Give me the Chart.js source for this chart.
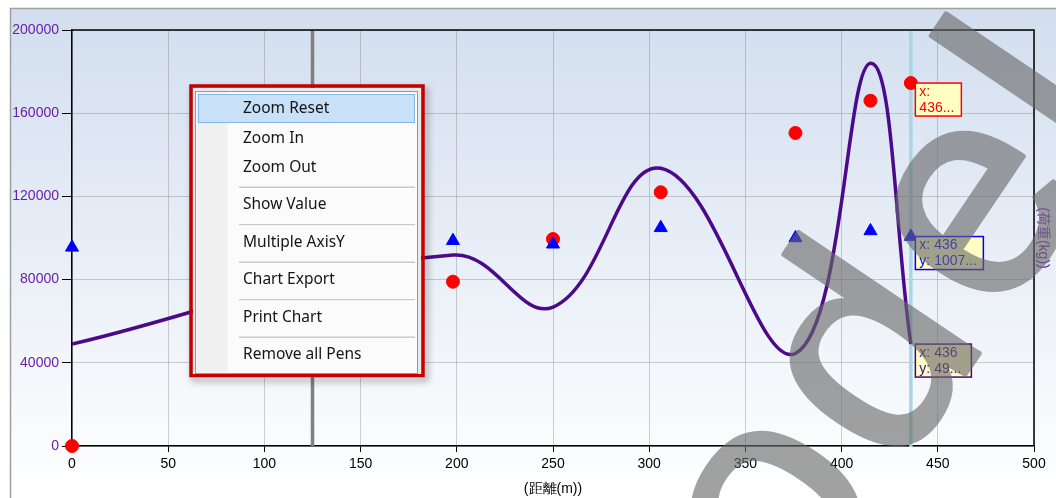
<!DOCTYPE html>
<html>
<head>
<meta charset="utf-8">
<script src="https://cdn.jsdelivr.net/npm/chart.js@4.4.0/dist/chart.umd.min.js"></script>
<style>
html, body { margin: 0; padding: 0; background: #fff; overflow: hidden; }
#wrap { position: relative; width: 1056px; height: 498px; }
</style>
</head>
<body>
<div id="wrap"><canvas id="chart"></canvas></div>
<script>
// distances (m) where samples were taken
var distX = [0, 198, 250, 306, 376, 415, 436];
// red series (circles)
var redVals = [0, 79000, 99500, 122000, 150500, 166000, 174500];
// blue series (triangles)
var blueVals = [95500, 98700, 97000, 104900, 100000, 103400, 100700];
// purple pen (smoothed line)
var lineVals = [49000, 91800, 66800, 133500, 44500, 184000, 49000];

var yTicks = [0, 40000, 80000, 120000, 160000, 200000];
var xTicks = [0, 50, 100, 150, 200, 250, 300, 350, 400, 450, 500];

var markerX = 125;   // grey marker line
var cursorX = 436;   // light blue cursor line
var xTitle = '(距離(m))';
var yTitle = '(荷重(kg))';

var redTip = ['x:', '436...'];
var blueTip = ['x: 436', 'y: 1007...'];
var lineTip = ['x: 436', 'y: 49...'];

var menuItems = ['Zoom Reset', 'Zoom In', 'Zoom Out', 'Show Value', 'Multiple AxisY', 'Chart Export', 'Print Chart', 'Remove all Pens'];
var watermark = 'Model';

function pts(vals) {
    var out = [];
    for (var i = 0; i < distX.length; i++) out.push({x: distX[i], y: vals[i]});
    return out;
}

var purple = '#6a1fa8';
var labelFont = '"Liberation Sans", Arial, sans-serif';

var bgPlugin = {
    id: 'bg',
    beforeDraw: function (chart) {
        var ctx = chart.ctx;
        ctx.save();
        ctx.fillStyle = '#fff';
        ctx.fillRect(0, 0, chart.width, chart.height);
        var g = ctx.createLinearGradient(0, 8, 0, chart.height);
        g.addColorStop(0, '#d2deef');
        g.addColorStop(1, '#ffffff');
        ctx.fillStyle = g;
        ctx.fillRect(10, 8, chart.width - 10, chart.height - 8);
        ctx.strokeStyle = '#a0a0a0';
        ctx.lineWidth = 1.5;
        ctx.beginPath();
        ctx.moveTo(10.5, chart.height);
        ctx.lineTo(10.5, 8.5);
        ctx.lineTo(chart.width, 8.5);
        ctx.stroke();
        ctx.restore();
    },
    beforeDatasetsDraw: function (chart) {
        var ctx = chart.ctx, a = chart.chartArea, xs = chart.scales.x;
        ctx.save();
        ctx.lineWidth = 3.5;
        ctx.strokeStyle = '#808080';
        var mx = xs.getPixelForValue(markerX);
        ctx.beginPath(); ctx.moveTo(mx, a.top); ctx.lineTo(mx, a.bottom); ctx.stroke();
        ctx.strokeStyle = '#a9d6e4';
        var cx = xs.getPixelForValue(cursorX);
        ctx.beginPath(); ctx.moveTo(cx, a.top); ctx.lineTo(cx, a.bottom + 1); ctx.stroke();
        // top and right frame
        ctx.strokeStyle = '#000';
        ctx.lineWidth = 1.5;
        ctx.beginPath();
        ctx.moveTo(a.left, a.top); ctx.lineTo(a.right, a.top); ctx.lineTo(a.right, a.bottom);
        ctx.stroke();
        ctx.restore();
    }
};

function drawTip(ctx, x, y, w, lines, color) {
    ctx.fillStyle = '#ffffc4';
    ctx.fillRect(x, y, w, 33);
    ctx.strokeStyle = color;
    ctx.lineWidth = 1.5;
    ctx.strokeRect(x, y, w, 33);
    ctx.fillStyle = color;
    ctx.font = '14px ' + labelFont;
    ctx.textAlign = 'left';
    ctx.textBaseline = 'middle';
    ctx.fillText(lines[0], x + 4, y + 9);
    ctx.fillText(lines[1], x + 4, y + 25);
}

function drawMenu(ctx) {
    ctx.save();
    // shadow + red frame
    ctx.shadowColor = 'rgba(0,0,0,0.4)';
    ctx.shadowBlur = 7;
    ctx.shadowOffsetX = 3;
    ctx.shadowOffsetY = 4;
    ctx.strokeStyle = '#c40000';
    ctx.lineWidth = 3.5;
    ctx.strokeRect(191, 86, 232, 289.5);
    ctx.restore();

    ctx.save();
    ctx.fillStyle = '#e9e9e9';
    ctx.fillRect(193, 88, 228, 286);
    ctx.fillStyle = '#fbfbfb';
    ctx.fillRect(195.5, 91.5, 222, 282);
    ctx.fillStyle = '#f0f0f0';
    ctx.fillRect(196.5, 92.5, 31, 280);
    ctx.strokeStyle = '#979797';
    ctx.lineWidth = 1;
    ctx.strokeRect(195.5, 91.5, 222, 282);

    ctx.fillStyle = '#c8e0f8';
    ctx.fillRect(198.5, 94.5, 216, 28);
    ctx.strokeStyle = '#86b9ea';
    ctx.strokeRect(198.5, 94.5, 216, 28);

    var seps = [187, 224.5, 262, 299.5, 337];
    for (var i = 0; i < seps.length; i++) {
        ctx.fillStyle = '#c9c9c9';
        ctx.fillRect(239, seps[i] - 0.5, 176, 1.5);
        ctx.fillStyle = '#ffffff';
        ctx.fillRect(239, seps[i] + 1, 176, 1);
    }
    var ys = [109, 138.3, 167.7, 205, 242.3, 280, 317.3, 355];
    ctx.fillStyle = '#141414';
    ctx.font = '15.5px "Noto Sans", "Open Sans", sans-serif';
    ctx.textAlign = 'left';
    ctx.textBaseline = 'middle';
    for (var j = 0; j < menuItems.length; j++) ctx.fillText(menuItems[j], 243, ys[j]);
    ctx.restore();
}

function drawWatermark(ctx, w, h) {
    // draw opaque on a scratch canvas, then lay it over translucently
    var off = document.createElement('canvas');
    off.width = w; off.height = h;
    var o = off.getContext('2d');
    o.translate(647, 846);
    o.rotate(-56 * Math.PI / 180);
    o.font = '300px ' + labelFont;
    try { o.letterSpacing = '15px'; } catch (e) {}
    o.fillStyle = '#696969';
    o.strokeStyle = '#696969';
    o.lineWidth = 5;
    o.lineJoin = 'round';
    o.fillText(watermark, 0, 0);
    o.strokeText(watermark, 0, 0);
    ctx.save();
    ctx.globalAlpha = 0.62;
    ctx.drawImage(off, 0, 0);
    ctx.restore();
}

var overlayPlugin = {
    id: 'overlay',
    afterDraw: function (chart) {
        var ctx = chart.ctx, a = chart.chartArea, xs = chart.scales.x, ys = chart.scales.y;
        ctx.save();
        // axis titles
        ctx.fillStyle = '#000';
        ctx.font = '14px ' + labelFont;
        ctx.textAlign = 'center';
        ctx.textBaseline = 'middle';
        ctx.fillText(xTitle, (a.left + a.right) / 2, 489);
        ctx.save();
        ctx.translate(1043, (a.top + a.bottom) / 2);
        ctx.rotate(Math.PI / 2);
        ctx.fillStyle = purple;
        ctx.fillText(yTitle, 0, 0);
        ctx.restore();

        // value tips at the cursor
        var last = distX.length - 1;
        var tx = xs.getPixelForValue(cursorX) + 4.5;
        drawTip(ctx, tx, ys.getPixelForValue(redVals[last]), 46, redTip, '#ff0000');
        drawTip(ctx, tx, ys.getPixelForValue(blueVals[last]), 68, blueTip, '#0000ff');
        drawTip(ctx, tx, ys.getPixelForValue(lineVals[last]), 56, lineTip, '#4b0082');
        ctx.restore();

        drawMenu(ctx);
        drawWatermark(ctx, chart.width, chart.height);
    }
};

new Chart(document.getElementById('chart'), {
    type: 'scatter',
    data: {
        datasets: [
            {
                label: 'blue',
                data: pts(blueVals),
                backgroundColor: '#0000ff',
                borderColor: '#0000ff',
                pointRadius: 7.5,
                pointStyle: 'triangle',
                clip: false,
                order: 0
            },
            {
                label: 'red',
                data: pts(redVals),
                backgroundColor: '#ff0000',
                borderColor: '#ff0000',
                pointRadius: 6.5,
                pointStyle: 'circle',
                clip: false,
                order: 1
            },
            {
                label: 'pen',
                type: 'line',
                data: pts(lineVals),
                borderColor: '#4b0a8a',
                borderWidth: 3.5,
                pointRadius: 0,
                tension: 0.4,
                fill: false,
                order: 2
            }
        ]
    },
    options: {
        responsive: true,
        maintainAspectRatio: false,
        animation: false,
        devicePixelRatio: 1,
        layout: { padding: { top: 30, right: 22, left: 0, bottom: 0 } },
        plugins: { legend: { display: false }, tooltip: { enabled: false } },
        scales: {
            x: {
                type: 'linear',
                min: 0,
                max: 500,
                afterFit: function (s) { s.height = 52; },
                afterBuildTicks: function (s) { s.ticks = xTicks.map(function (v) { return {value: v}; }); },
                ticks: { color: '#000', font: { size: 14, family: labelFont }, padding: 4, maxRotation: 0 },
                grid: { color: 'rgba(120,120,120,0.35)', tickColor: '#000', tickLength: 6, lineWidth: 1 },
                border: { color: '#000', width: 1.5 }
            },
            y: {
                min: 0,
                max: 200000,
                afterFit: function (s) { s.width = 72; },
                afterBuildTicks: function (s) { s.ticks = yTicks.map(function (v) { return {value: v}; }); },
                ticks: { color: purple, font: { size: 14, family: labelFont }, padding: 3,
                    callback: function (v) { return String(v); } },
                grid: { color: 'rgba(120,120,120,0.35)', tickColor: '#000', tickLength: 10, lineWidth: 1 },
                border: { color: '#000', width: 1.5 }
            }
        }
    },
    plugins: [bgPlugin, overlayPlugin]
});
</script>
</body>
</html>
